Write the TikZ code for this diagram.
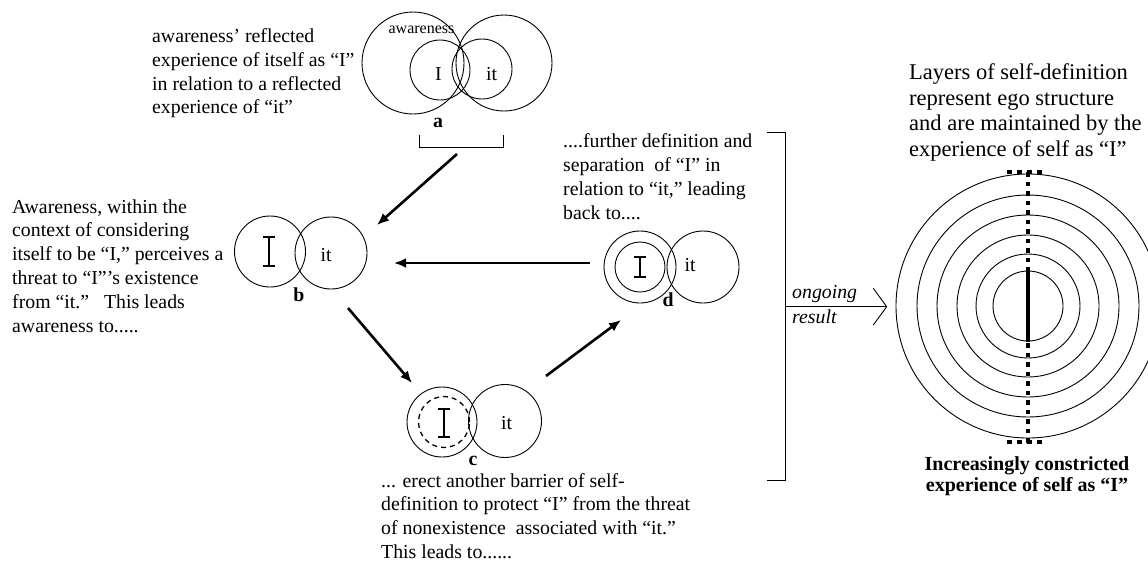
\documentclass[tikz,border=0pt]{standalone}
\usepackage{fontspec}
\setmainfont{Liberation Serif}
\usetikzlibrary{arrows.meta}
\begin{document}
\begin{tikzpicture}[x=1pt,y=-1pt,
  ring/.style={draw, circle, line width=0.9pt, inner sep=0pt, minimum size=#1},
  barrier/.style={ring=#1, line width=1.3pt, dash pattern=on 5pt off 4pt},
  flow/.style={line width=2.6pt, -{Latex[length=12pt,width=10pt]}},
  body/.style={font=\fontsize{19.8}{23.8}\selectfont, align=left, anchor=base west, inner sep=0pt},
  word/.style={font=\fontsize{19.8}{23.8}\selectfont, anchor=base, inner sep=0pt},
  tag/.style={font=\fontsize{19.8}{23.8}\selectfont\bfseries, anchor=base, inner sep=0pt},
  thinline/.style={line width=0.9pt},
  selfbar/.pic={\draw[line width=1.6pt] (-6,-#1) -- (6,-#1) (0,-#1) -- (0,#1) (-6,#1) -- (6,#1);}
]
\useasboundingbox (0,0) rectangle (1148,560);

% ---------- a : awareness, I and it ----------
\node[ring=102pt] (aAw) at (413,63) {};
\node[ring=96pt]  (aItBig) at (504,63) {};
\node[ring=60pt]  (aI) at (440,70) {};
\node[ring=60pt]  (aIt) at (482,69) {};
\node[font=\fontsize{16}{18}\selectfont, anchor=base, inner sep=0pt] (awlabel) at (421.5,33.3) {awareness};
\node[word] (aItxt) at (438.5,80) {I};
\node[word] (aIttxt) at (491.5,80) {it};
\node[tag] (alabel) at (438,127) {a};
\draw[thinline] (419.5,134.5) -- (419.5,147.3) -- (503.3,147.3) -- (503.3,134.5);
% multi-line texts are anchored at the baseline of their last line
\node[body] (atext) at (152,113.9) {awareness’ reflected\\experience of itself as “I”\\in relation to a reflected\\experience of “it”};

% ---------- b ----------
\node[ring=71pt] (bI) at (270,251.5) {};
\node[ring=72pt] (bIt) at (331,253) {};
\pic at (269,251.5) {selfbar=14.5};
\node[word] (bIttxt) at (326,261) {it};
\node[tag] (blabel) at (299,301.7) {b};
\node[body] (btext) at (12,332) {Awareness, within the\\context of considering\\itself to be “I,” perceives a\\threat to “I”’s existence\\from “it.”\ \ \ This leads\\awareness to.....};

% ---------- c ----------
\node[ring=70pt] (cI) at (442,422) {};
\node[ring=73pt] (cIt) at (505,421) {};
\node[barrier=51pt] (cBar) at (444,422) {};
\pic at (444,423) {selfbar=14};
\node[word] (cIttxt) at (506.5,429.3) {it};
\node[tag] (clabel) at (473,465) {c};
\node[body] (ctext) at (381,558.5) {... erect another barrier of self-\\definition to protect “I” from the threat\\of nonexistence\ \ associated with “it.”\\This leads to......};

% ---------- d ----------
\node[ring=72pt] (dO) at (640,267) {};
\node[ring=50pt] (dI) at (640,267) {};
\node[ring=72pt] (dIt) at (703,267) {};
\pic at (640,267) {selfbar=10};
\node[word] (dIttxt) at (690,271.7) {it};
\node[tag] (dlabel) at (668,306.5) {d};
\node[body] (dtext) at (563,219) {....further definition and\\separation\ \ of “I” in\\relation to “it,” leading\\back to....};

% ---------- cycle arrows ----------
\coordinate (aOut) at (457,154);
\coordinate (bIn)  at (377,225);
\coordinate (dOut) at (590,263);
\coordinate (bIn2) at (394,263);
\coordinate (bOut) at (348,308);
\coordinate (cIn)  at (412,383);
\coordinate (cOut) at (546,376);
\coordinate (dIn)  at (621,320);
\draw[flow] (aOut) -- (bIn);
\draw[flow] (dOut) -- (bIn2);
\draw[flow] (bOut) -- (cIn);
\draw[flow] (cOut) -- (dIn);

% ---------- bracket and ongoing result ----------
\coordinate (brTop) at (767,132);
\coordinate (brBot) at (767,480);
\coordinate (brMid) at (785,306.7);
\coordinate (resTip) at (886.7,306.7);
\draw[thinline] (brTop) -- (785,132) -- (785,480) -- (brBot);
\draw[thinline] (brMid) -- (resTip);
\draw[thinline] (873.3,288.3) -- (resTip) -- (873.3,325);
\node[font=\fontsize{19.8}{25}\selectfont\itshape, align=left, anchor=base west, inner sep=0pt] (ongoing) at (792,323) {ongoing\\result};

% ---------- layers of self-definition ----------
\foreach \r [count=\k] in {132,111,91,71,52,35}
  \node[ring=2*\r pt] (layer\k) at (1028,306) {};
\draw[line width=4.2pt, dash pattern=on 4.5pt off 5pt] (1028,172) -- (1028,443);
\draw[line width=4.2pt] (1028,272) -- (1028,342);
\draw[line width=4.2pt, dash pattern=on 5pt off 5pt] (1007,172) -- (1042,172);
\draw[line width=4.2pt, dash pattern=on 5pt off 5pt] (1007,442) -- (1042,442);
\node[font=\fontsize{22.5}{25.5}\selectfont, align=left, anchor=base west, inner sep=0pt] (layertext) at (909,156) {Layers of self-definition\\represent ego structure\\and are maintained by the\\experience of self as “I”};
\node[font=\fontsize{20}{21.7}\selectfont\bfseries, align=center, anchor=base, inner sep=0pt] (constricted) at (1027,491.7) {Increasingly constricted\\experience of self as “I”};
\end{tikzpicture}
\end{document}
